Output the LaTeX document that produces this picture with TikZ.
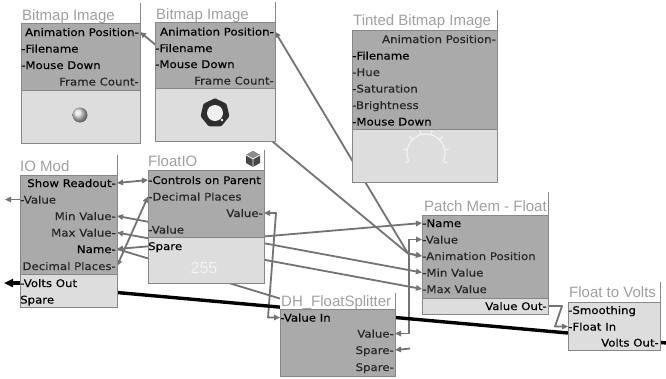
\documentclass[tikz,border=0pt]{standalone}
\usepackage{fontspec}
\setmainfont{DejaVu Sans}
\newfontfamily\portfont[FakeStretch=1.12, FakeBold=0.25]{DejaVu Sans}
\newfontfamily\titlefont{Liberation Sans}
\usetikzlibrary{arrows.meta}
\pgfdeclarelayer{canvas}
\pgfdeclarelayer{wires}
\pgfsetlayers{canvas,wires,main}

\definecolor{bodydark}{RGB}{170,170,170}
\definecolor{bodylight}{RGB}{221,221,221}
\definecolor{boxedge}{RGB}{135,135,135}
\definecolor{titlegray}{RGB}{160,160,160}
\definecolor{wiregray}{RGB}{115,115,115}
\definecolor{portdim}{RGB}{38,38,38}
\definecolor{iconwhite}{RGB}{243,243,243}

\tikzset{
  x=1pt, y=-1pt,
  partbox/.style={draw=boxedge, line width=0.8pt, anchor=north west, inner sep=0pt, outer sep=0pt},
  darkpart/.style={partbox, fill=bodydark},
  lightpart/.style={partbox, fill=bodylight},
  titleback/.style={fill=white, anchor=south west, inner sep=0pt, outer sep=0pt},
  titleline/.style={draw=boxedge, line width=0.8pt},
  modtitle/.style={anchor=base west, inner sep=0pt, text=titlegray, font=\titlefont\fontsize{15}{18}\selectfont},
  portL/.style={anchor=base west, inner sep=0pt, font=\portfont\fontsize{10.5}{12}\selectfont},
  portR/.style={anchor=base east, inner sep=0pt, font=\portfont\fontsize{10.5}{12}\selectfont},
  dim/.style={text=portdim},
  tip/.tip={Triangle[length=6pt, width=5.5pt]},
  wire/.style={draw=wiregray, line width=1.8pt, line join=round},
  both/.style={wire, tip-tip},
  toend/.style={wire, -tip},
  fromstart/.style={wire, tip-},
  volts/.style={draw=black, line width=3.4pt},
}

% module parts: name, left, top, right, bottom
\newcommand\darkrect[5]{\node[darkpart, minimum width={(#4-#2)*1pt}, minimum height={(#5-#3)*1pt}] (#1) at (#2,#3) {};}
\newcommand\lightrect[5]{\node[lightpart, minimum width={(#4-#2)*1pt}, minimum height={(#5-#3)*1pt}] (#1) at (#2,#3) {};}
% white strip behind a title: name, left, top of body, right
\newcommand\titlestrip[4]{\node[titleback, minimum width={(#4-#2)*1pt}, minimum height=20pt] (#1) at (#2,#3) {};}

\begin{document}
\begin{tikzpicture}
\begin{pgfonlayer}{canvas}
  \fill[white] (0,0) rectangle (666,378);
\end{pgfonlayer}
\useasboundingbox (0,0) rectangle (666,378);

% ---------- Bitmap Image (left) ----------
\titlestrip{bm1-head}{21}{23}{140}
\node[modtitle] (bm1-title) at (22,20) {Bitmap Image};
\darkrect{bm1-top}{21}{23}{140}{90}
\lightrect{bm1-img}{21}{90}{140}{143}
\draw[titleline] (bm1-top.north east) -- ++(0,-20);
\node[portR] (bm1-anim-t) at (139,36) {Animation Position-};
\node[portL] (bm1-fn) at (21,52.5) {-Filename};
\node[portL] (bm1-md) at (21,69) {-Mouse Down};
\node[portR, dim] (bm1-fc) at (139,85.5) {Frame Count-};
\shade[ball color=gray!30] (80,115) circle (7.5);

% ---------- Bitmap Image (right) ----------
\titlestrip{bm2-head}{155}{22}{275}
\node[modtitle] (bm2-title) at (156,19.5) {Bitmap Image};
\darkrect{bm2-top}{155}{22}{275}{88}
\lightrect{bm2-img}{155}{88}{275}{141}
\draw[titleline] (bm2-top.north east) -- ++(0,-20);
\node[portR] (bm2-anim-t) at (274,35.5) {Animation Position-};
\node[portL] (bm2-fn) at (155,52) {-Filename};
\node[portL] (bm2-md) at (155,68) {-Mouse Down};
\node[portR, dim] (bm2-fc) at (274,84.5) {Frame Count-};
\begin{scope}[shift={(215,113)}]
  \draw[black!82, line width=5pt, line join=round, fill=black!82]
    (0,-12) -- (9.4,-7.5) -- (11.7,2.7) -- (5.2,10.8) -- (-5.2,10.8) -- (-11.7,2.7) -- (-9.4,-7.5) -- cycle;
  \fill[gray!12] (0,0) circle (8);
  \fill[white] (7,7) circle (1.3);
\end{scope}

% ---------- Tinted Bitmap Image ----------
\titlestrip{tb-head}{352}{30}{497}
\node[modtitle] (tb-title) at (353,25.5) {Tinted Bitmap Image};
\darkrect{tb-top}{352}{30}{497}{129}
\lightrect{tb-img}{352}{129}{497}{182}
\draw[titleline] (tb-top.north east) -- ++(0,-20);
\node[portR, dim] (tb-anim-t) at (496,43) {Animation Position-};
\node[portL] (tb-fn) at (352,59.5) {-Filename};
\node[portL, dim] (tb-hue) at (352,76) {-Hue};
\node[portL, dim] (tb-sat) at (352,92.5) {-Saturation};
\node[portL, dim] (tb-bri) at (352,109) {-Brightness};
\node[portL] (tb-md) at (352,125.5) {-Mouse Down};
\begin{scope}[shift={(426,153)}, y=1pt]
  \draw[iconwhite, line width=1.2pt] (205:19) arc (205:-25:19);
  \foreach \a in {205,170,135,105,75,45,10,-25}
    \draw[iconwhite, line width=1.1pt] (\a:19) -- (\a:23.5);
\end{scope}

% ---------- IO Mod ----------
\titlestrip{iom-head}{20}{175}{117}
\node[modtitle] (iom-title) at (20,171.5) {IO Mod};
\darkrect{iom-top}{20}{175}{117}{274}
\lightrect{iom-bot}{20}{274}{117}{307}
\draw[titleline] (iom-top.north east) -- ++(0,-20);
\node[portR] (iom-show-t) at (116,187) {Show Readout-};
\node[portL, dim] (iom-value-t) at (20,203.5) {-Value};
\node[portR, dim] (iom-min-t) at (116,220) {Min Value-};
\node[portR, dim] (iom-max-t) at (116,236.5) {Max Value-};
\node[portR] (iom-name-t) at (116,253) {Name-};
\node[portR, dim] (iom-dec-t) at (116,270) {Decimal Places-};
\node[portL] (iom-volts-t) at (20,287) {-Volts Out};
\node[portL] (iom-spare-t) at (20,303.5) {Spare};

% ---------- FloatIO ----------
\titlestrip{fio-head}{148}{170}{264}
\node[modtitle] (fio-title) at (148,166.5) {FloatIO};
\darkrect{fio-top}{148}{170}{264}{237}
\lightrect{fio-bot}{148}{237}{264}{283}
\draw[titleline] (fio-top.north east) -- ++(0,-20);
\node[portL] (fio-ctrl-t) at (148,184) {-Controls on Parent};
\node[portL, dim] (fio-dec-t) at (148,200.5) {-Decimal Places};
\node[portR, dim] (fio-val-t) at (263,217) {Value-};
\node[portL, dim] (fio-in-t) at (148,233.5) {-Value};
\node[portL] (fio-spare-t) at (148,250) {Spare};
\node[anchor=base, inner sep=0pt, text=iconwhite, font=\titlefont\fontsize{16}{18}\selectfont] (fio-readout) at (204,273.5) {255};
\begin{scope}[shift={(253,159)}]
  \fill[black!72] (-7,-4) -- (0,-8) -- (7,-4) -- (7,4) -- (0,8) -- (-7,4) -- cycle;
  \fill[black!45] (-7,-4) -- (0,-8) -- (7,-4) -- (0,0) -- cycle;
  \draw[white, line width=0.7pt, line join=round] (-7,-4) -- (0,0) -- (7,-4) (0,0) -- (0,8);
\end{scope}

% ---------- Patch Mem - Float ----------
\titlestrip{pm-head}{422}{215}{548}
\node[modtitle] (pm-title) at (424,211) {Patch Mem - Float};
\darkrect{pm-top}{422}{215}{548}{298}
\lightrect{pm-bot}{422}{298}{548}{314}
\draw[titleline] (pm-top.north east) -- ++(0,-23);
\node[portL] (pm-name-t) at (422,227) {-Name};
\node[portL, dim] (pm-value-t) at (422,243.5) {-Value};
\node[portL, dim] (pm-anim-t) at (422,260) {-Animation Position};
\node[portL, dim] (pm-min-t) at (422,276.5) {-Min Value};
\node[portL, dim] (pm-max-t) at (422,293) {-Max Value};
\node[portR] (pm-out-t) at (547,310) {Value Out-};

% ---------- DH_FloatSplitter ----------
\titlestrip{dh-head}{280}{309}{395}
\node[modtitle] (dh-title) at (281,306.5) {DH\_FloatSplitter};
\darkrect{dh-top}{280}{309}{395}{376}
\draw[titleline] (dh-top.north east) -- ++(0,-16);
\node[portL] (dh-in-t) at (280,321.5) {-Value In};
\node[portR, dim] (dh-val-t) at (394,337.5) {Value-};
\node[portR, dim] (dh-sp1-t) at (394,354) {Spare-};
\node[portR, dim] (dh-sp2-t) at (394,371) {Spare-};

% ---------- Float to Volts ----------
\titlestrip{ftv-head}{568}{302}{660}
\node[modtitle] (ftv-title) at (569,297) {Float to Volts};
\lightrect{ftv-top}{568}{302}{660}{350}
\draw[titleline] (ftv-top.north east) -- ++(0,-20);
\node[portL] (ftv-sm-t) at (568,314) {-Smoothing};
\node[portL] (ftv-fl-t) at (568,330.5) {-Float In};
\node[portR] (ftv-vo-t) at (659,346.5) {Volts Out-};

% ---------- ports and bends ----------
\coordinate (bm1-anim) at (140,32);
\coordinate (bm2-anim) at (275,31.5);
\coordinate (iom-show) at (117,183);
\coordinate (iom-value) at (20,199.5);
\coordinate (iom-min) at (117,216);
\coordinate (iom-max) at (117,232.5);
\coordinate (iom-name) at (117,249);
\coordinate (iom-dec) at (117,266);
\coordinate (iom-volts) at (20,283);
\coordinate (iom-vout) at (117,292.5);
\coordinate (fio-ctrl) at (148,180);
\coordinate (fio-dec) at (148,196.5);
\coordinate (fio-val) at (264,213);
\coordinate (pm-name) at (422,223);
\coordinate (pm-value) at (422,239.5);
\coordinate (pm-anim) at (422,256);
\coordinate (pm-min) at (422,272.5);
\coordinate (pm-max) at (422,289);
\coordinate (pm-out) at (548,306);
\coordinate (dh-in) at (280,317.5);
\coordinate (dh-val) at (395,333.5);
\coordinate (dh-spare) at (395,350);
\coordinate (ftv-float) at (568,326.5);
\coordinate (ftv-in2) at (568,333);
\coordinate (ftv-volts) at (660,342.5);

\coordinate (pm-anim-j) at (408,253.5);
\coordinate (fio-val-j1) at (276,213);
\coordinate (fio-val-j2) at (268,317.5);
\coordinate (dh-val-j1) at (409,333.5);
\coordinate (dh-val-j2) at (409,239.5);
\coordinate (pm-out-j1) at (562,306);
\coordinate (pm-out-j2) at (555,326.5);
\coordinate (dh-spare-end) at (410,348.5);
\coordinate (iom-value-end) at (5,199.5);
\coordinate (iom-volts-end) at (4,283);
\coordinate (ftv-volts-end) at (667,343);

% ---------- connections (drawn beneath the modules) ----------
\begin{pgfonlayer}{wires}
  \draw[both] (bm1-anim) -- (pm-anim-j) -- (pm-anim);
  \draw[both] (bm2-anim) -- (pm-anim-j) -- (pm-anim);
  \draw[both] (iom-show) -- (fio-ctrl);
  \draw[both] (iom-dec) -- (fio-dec);
  \draw[both] (iom-min) -- (pm-min);
  \draw[both] (iom-max) -- (pm-max);
  \draw[both] (iom-name) -- (pm-name);
  \draw[wire] (iom-name) -- (dh-val);
  \draw[both] (fio-val) -- (fio-val-j1) -- (fio-val-j2) -- (dh-in);
  \draw[both] (dh-val) -- (dh-val-j1) -- (dh-val-j2) -- (pm-value);
  \draw[fromstart] (dh-spare) -- (dh-spare-end);
  \draw[toend] (pm-out) -- (pm-out-j1) -- (pm-out-j2) -- (ftv-float);
  \draw[toend] (iom-value) -- (iom-value-end);
  \draw[volts, -{Triangle[length=9pt, width=8pt]}] (iom-volts) -- (iom-volts-end);
  \draw[volts] (iom-vout) -- (ftv-in2);
  \draw[volts] (ftv-volts) -- (ftv-volts-end);
\end{pgfonlayer}
\end{tikzpicture}
\end{document}
